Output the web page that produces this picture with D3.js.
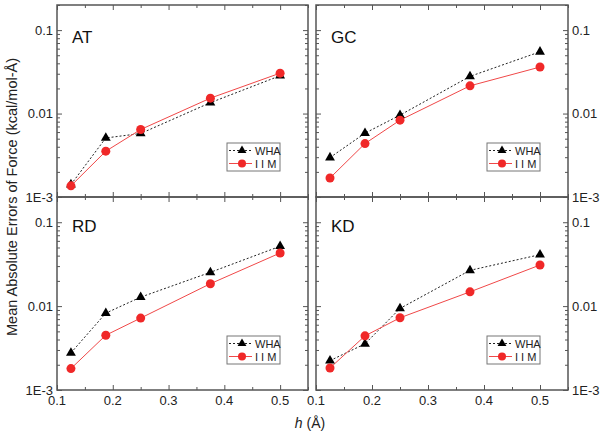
<!DOCTYPE html>
<html>
<head>
<meta charset="utf-8">
<script src="https://cdn.jsdelivr.net/npm/d3@7"></script>
<style>
  html, body { margin: 0; padding: 0; background: #fff; }
  svg { display: block; font-family: "Liberation Sans", Arial, sans-serif; }
</style>
</head>
<body>
<svg id="chart" width="602" height="433"></svg>
<script>
// ---- data ----
const hValues = [0.125, 0.1875, 0.25, 0.375, 0.5];
const panelNames = ["AT", "GC", "RD", "KD"];
const seriesNames = ["WHA", "I I M"];
const whaAT = [0.00141, 0.0051, 0.00577, 0.0135, 0.0284];
const iimAT = [0.00136, 0.00354, 0.00644, 0.0153, 0.0305];
const whaGC = [0.00297, 0.00582, 0.00957, 0.0279, 0.055];
const iimGC = [0.00169, 0.00437, 0.00833, 0.0215, 0.0361];
const whaRD = [0.00277, 0.00825, 0.0128, 0.0253, 0.0517];
const iimRD = [0.0018, 0.0045, 0.0072, 0.0185, 0.043];
const whaKD = [0.00224, 0.00355, 0.00938, 0.0267, 0.0411];
const iimKD = [0.00183, 0.00442, 0.00726, 0.0148, 0.0309];
const xTickLabels = ["0.1", "0.2", "0.3", "0.4", "0.5"];
const yTickValues = [0.001, 0.01, 0.1];
const yTickLabels = ["1E-3", "0.01", "0.1"];
const xLabelText = "(Å)";
const yLabelText = "Mean Absolute Errors of Force (kcal/mol-Å)";

const panelData = {
  AT: [whaAT, iimAT], GC: [whaGC, iimGC], RD: [whaRD, iimRD], KD: [whaKD, iimKD]
};

// ---- layout ----
const svg = d3.select("#chart");
const cols = [[57, 308], [316, 568]];
const rows = [[5, 197], [197, 390]];
const frameColor = "#555";
const red = "#f02828";
const redLine = "#f04848";

panelNames.forEach((name, i) => {
  const c = i % 2, r = Math.floor(i / 2);
  const [x0, x1] = cols[c];
  const [y0, y1] = rows[r];
  const x = d3.scaleLinear().domain([0.1, 0.55]).range([x0, x1]);
  const y = d3.scaleLog().domain([0.001, 0.2]).range([y1, y0]);
  const g = svg.append("g");

  const xMajor = d3.range(0.1, 0.501, 0.1);
  const xMinor = d3.range(0.15, 0.551, 0.1);
  const yMinor = [];
  [0.001, 0.01, 0.1].forEach(d => { for (let k = 2; k <= 9; k++) { const v = d * k; if (v <= 0.2) yMinor.push(v); } });

  const axisBottom = d3.axisBottom(x).tickValues(xMajor).tickSizeInner(-5).tickSizeOuter(0).tickFormat("");
  const axisBottomMinor = d3.axisBottom(x).tickValues(xMinor).tickSizeInner(-3).tickSizeOuter(0).tickFormat("");
  const axisTop = d3.axisTop(x).tickValues(xMajor).tickSizeInner(-5).tickSizeOuter(0).tickFormat("");
  const axisTopMinor = d3.axisTop(x).tickValues(xMinor).tickSizeInner(-3).tickSizeOuter(0).tickFormat("");
  const axisLeft = d3.axisLeft(y).tickValues(yTickValues).tickSizeInner(-5).tickSizeOuter(0).tickFormat("");
  const axisLeftMinor = d3.axisLeft(y).tickValues(yMinor).tickSizeInner(-3).tickSizeOuter(0).tickFormat("");
  const axisRight = d3.axisRight(y).tickValues(yTickValues).tickSizeInner(-5).tickSizeOuter(0).tickFormat("");
  const axisRightMinor = d3.axisRight(y).tickValues(yMinor).tickSizeInner(-3).tickSizeOuter(0).tickFormat("");

  const axes = [
    [axisBottom, `translate(0,${y1})`], [axisBottomMinor, `translate(0,${y1})`],
    [axisTop, `translate(0,${y0})`], [axisTopMinor, `translate(0,${y0})`],
    [axisLeft, `translate(${x0},0)`], [axisLeftMinor, `translate(${x0},0)`],
    [axisRight, `translate(${x1},0)`], [axisRightMinor, `translate(${x1},0)`]
  ];
  axes.forEach(([ax, tr]) => {
    const a = g.append("g").attr("transform", tr).call(ax);
    a.select(".domain").remove();
    a.selectAll("line").attr("stroke", frameColor).attr("stroke-width", 1);
  });

  g.append("rect").attr("x", x0).attr("y", y0).attr("width", x1 - x0).attr("height", y1 - y0)
    .attr("fill", "none").attr("stroke", frameColor).attr("stroke-width", 1.5);

  const labelX = c === 0 ? x0 - 4 : x1 + 4;
  const anchor = c === 0 ? "end" : "start";
  g.selectAll(".ylab").data(yTickValues).enter().append("text")
    .attr("x", labelX).attr("y", d => y(d) + 4.5)
    .attr("text-anchor", anchor).attr("font-size", 13).attr("fill", "#222")
    .text((d, k) => yTickLabels[k]);

  if (r === 1) {
    g.selectAll(".xlab").data(xMajor).enter().append("text")
      .attr("x", d => x(d)).attr("y", y1 + 15)
      .attr("text-anchor", "middle").attr("font-size", 13).attr("fill", "#222")
      .text((d, k) => xTickLabels[k]);
  }

  g.append("text").attr("x", x0 + 15).attr("y", y0 + (r === 0 ? 38 : 35))
    .attr("font-size", 17).attr("fill", "#111").text(name);

  const [wha, iim] = panelData[name];
  const pts = s => s.map((v, k) => [x(hValues[k]), y(v)]);

  g.append("path").attr("d", d3.line()(pts(wha)))
    .attr("fill", "none").attr("stroke", "#222").attr("stroke-width", 1).attr("stroke-dasharray", "2,2");
  g.append("path").attr("d", d3.line()(pts(iim)))
    .attr("fill", "none").attr("stroke", redLine).attr("stroke-width", 1);

  const tri = d3.symbol().type(d3.symbolTriangle).size(42);
  g.selectAll(".tri").data(pts(wha)).enter().append("path")
    .attr("d", tri).attr("transform", d => `translate(${d[0]},${d[1]})`).attr("fill", "#000");
  g.selectAll(".circ").data(pts(iim)).enter().append("circle")
    .attr("cx", d => d[0]).attr("cy", d => d[1]).attr("r", 4.5).attr("fill", red);

  // legend
  const lx = x1 - 81, ly = y1 - 54;
  const lg = g.append("g").attr("transform", `translate(${lx},${ly})`);
  lg.append("rect").attr("x", 0).attr("y", 0).attr("width", 53).attr("height", 28)
    .attr("fill", "#fff").attr("stroke", "#777").attr("stroke-width", 1);
  lg.append("line").attr("x1", 2).attr("x2", 25).attr("y1", 7.5).attr("y2", 7.5)
    .attr("stroke", "#222").attr("stroke-width", 1).attr("stroke-dasharray", "2,2");
  lg.append("path").attr("d", d3.symbol().type(d3.symbolTriangle).size(34)).attr("transform", "translate(15,7.5)").attr("fill", "#000");
  lg.append("text").attr("x", 28).attr("y", 11.5).attr("font-size", 11).attr("fill", "#222").text(seriesNames[0]);
  lg.append("line").attr("x1", 2).attr("x2", 25).attr("y1", 20.5).attr("y2", 20.5)
    .attr("stroke", redLine).attr("stroke-width", 1);
  lg.append("circle").attr("cx", 15).attr("cy", 20.5).attr("r", 4).attr("fill", red);
  lg.append("text").attr("x", 28).attr("y", 24.5).attr("font-size", 11).attr("fill", "#222").text(seriesNames[1]);
});

svg.append("text")
  .attr("transform", "translate(17,197) rotate(-90)")
  .attr("text-anchor", "middle").attr("font-size", 14.5).attr("fill", "#222")
  .text(yLabelText);

const xt = svg.append("text").attr("x", 310).attr("y", 428)
  .attr("text-anchor", "middle").attr("font-size", 14).attr("fill", "#222");
xt.append("tspan").attr("font-style", "italic").text("h");
xt.append("tspan").text(" " + xLabelText);
</script>
</body>
</html>
